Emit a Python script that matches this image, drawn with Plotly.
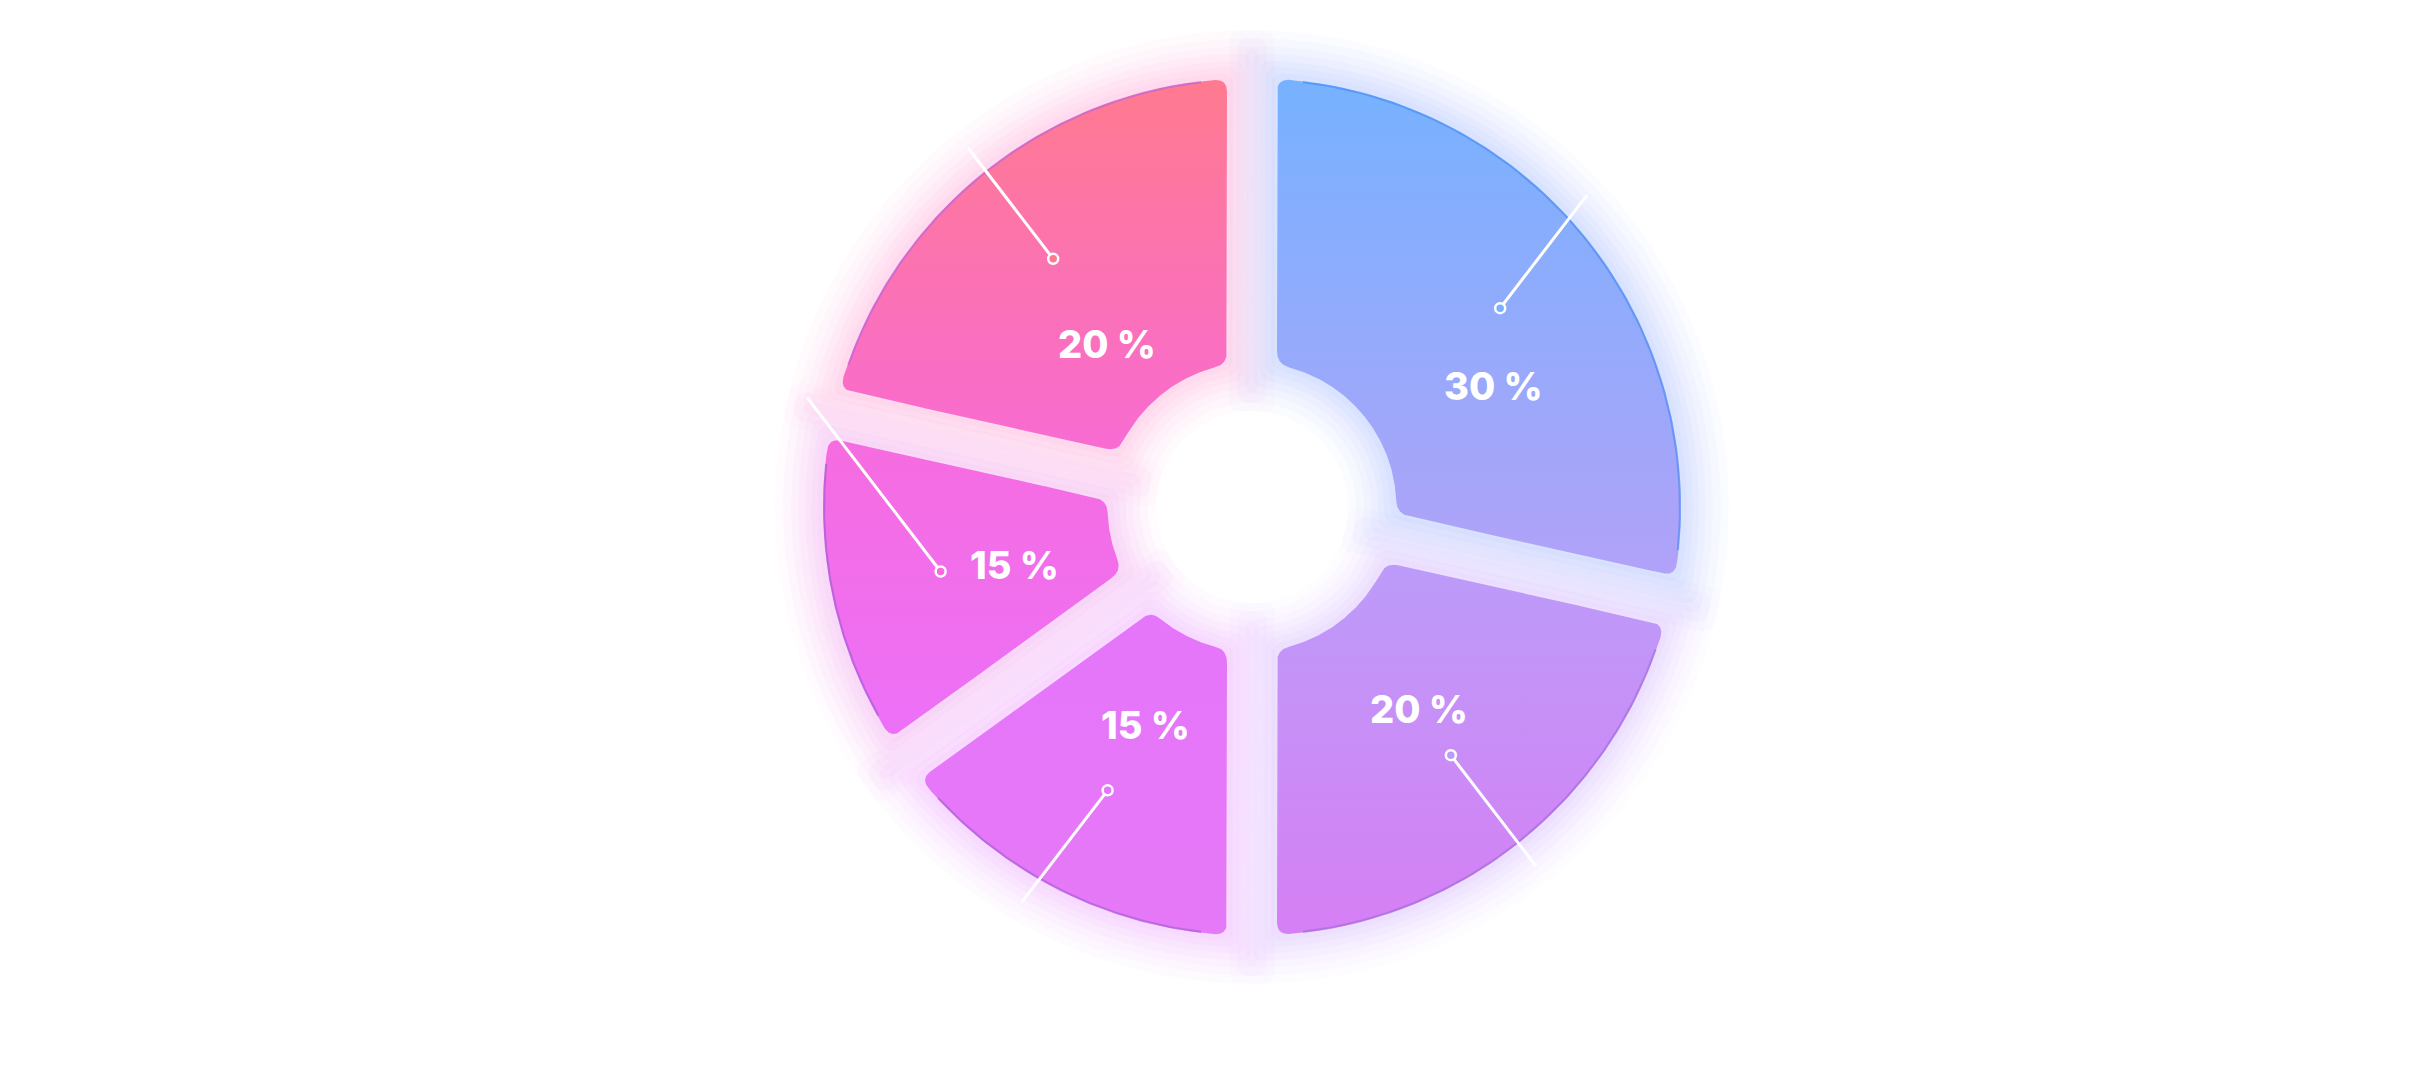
import numpy as np
import plotly.graph_objects as go

# ---------------- data ----------------
values = [28.5, 21.5, 15.0, 13.5, 21.5]          # slice sizes (clockwise from 12 o'clock)
label_texts = ["30 %", "20 %", "15 %", "15 %", "20 %"]
top_colors = ["#76b2ff", "#bc9bf9", "#e575fa", "#f66ce0", "#ff7a8f"]
bottom_colors = ["#b1a2f8", "#d67ff4", "#e579f7", "#ec70f7", "#f86bd2"]
glow_colors = ["#7f95ff", "#c490f7", "#e67af8", "#f070ee", "#fb74c0"]
edge_colors = ["#3d86f0", "#9a66d8", "#9a5ad6", "#9457d6", "#b35ee6"]

# ---------------- geometry / style ----------------
W, H = 2435, 1090
CX, CY = 1252, 507            # pixel position of the ring centre
R_OUT, R_IN, GAP = 429, 145, 50
STEP = 28                     # sampling step -> corner rounding size
TICK_R0, TICK_R1 = 318, 458
TICK_ANGLE = np.radians(52.5)
tick_up = [True, False, False, True, True]
label_r = [270, 262, 242, 244, 218]        # label distance from centre (px)
label_turn = [12, -1, -1, -2, -3]          # label angle offset from slice middle (deg)
GLOW = [(6, 0.05), (12, 0.05), (18, 0.045), (25, 0.045), (32, 0.04), (40, 0.035), (48, 0.03)]


def pt(theta_deg, rho):
    t = np.radians(theta_deg)
    return rho * np.sin(t), rho * np.cos(t)


def arc(r, s, e):
    L = abs(np.radians(e - s)) * r
    n = max(2, int(np.ceil(L / STEP)))
    return [pt(a, r) for a in np.linspace(s, e, n + 1)[:-1]]


def seg(p, q):
    L = np.hypot(q[0] - p[0], q[1] - p[1])
    n = max(2, int(np.ceil(L / STEP)))
    return [(p[0] + (q[0] - p[0]) * k / n, p[1] + (q[1] - p[1]) * k / n) for k in range(n)]


def slice_outline(a0, a1, grow=0.0):
    r_out, r_in, h = R_OUT + grow, R_IN - grow, GAP / 2 - grow
    do = np.degrees(np.arcsin(h / r_out))
    di = np.degrees(np.arcsin(h / r_in))
    o0, o1, i1, i0 = a0 + do, a1 - do, a1 - di, a0 + di
    pts = []
    pts += arc(r_out, o0, o1)
    pts += seg(pt(o1, r_out), pt(i1, r_in))
    pts += arc(r_in, i1, i0)
    pts += seg(pt(i0, r_in), pt(o0, r_out))
    P = np.array(pts)
    for _ in range(5):
        Q = np.roll(P, -1, axis=0)
        A = 0.75 * P + 0.25 * Q
        B = 0.25 * P + 0.75 * Q
        P = np.empty((2 * len(A), 2))
        P[0::2] = A
        P[1::2] = B
    return np.vstack([P, P[:1]])


def rgba(hexc, a):
    hexc = hexc.lstrip("#")
    r, g, b = int(hexc[0:2], 16), int(hexc[2:4], 16), int(hexc[4:6], 16)
    return f"rgba({r},{g},{b},{a})"


total = sum(values)
bounds = np.concatenate([[0], np.cumsum(values)]) / total * 360.0
n = len(values)
mids = [(bounds[i] + bounds[i + 1]) / 2 for i in range(n)]

fig = go.Figure()

# soft glow (stack of grown, translucent copies of each slice)
for grow, a in reversed(GLOW):
    for i in range(n):
        P = slice_outline(bounds[i], bounds[i + 1], grow)
        fig.add_trace(go.Scatter(x=P[:, 0], y=P[:, 1], mode="lines", fill="toself",
                                 fillcolor=rgba(glow_colors[i], a), line=dict(width=0),
                                 hoverinfo="skip", showlegend=False))

# slices with vertical gradient
for i in range(n):
    P = slice_outline(bounds[i], bounds[i + 1])
    fig.add_trace(go.Scatter(
        x=P[:, 0], y=P[:, 1], mode="lines", fill="toself",
        line=dict(width=0, color=bottom_colors[i]),
        fillgradient=dict(type="vertical",
                          colorscale=[[0, bottom_colors[i]], [1, top_colors[i]]]),
        name=label_texts[i], hoverinfo="name", showlegend=False))

# darker rim just inside the outer arc
for i in range(n):
    a0, a1 = bounds[i], bounds[i + 1]
    d = np.degrees(np.arcsin((GAP / 2 + 26) / R_OUT))
    ang = np.linspace(a0 + d, a1 - d, 80)
    xs = [pt(a, R_OUT - 1.0)[0] for a in ang]
    ys = [pt(a, R_OUT - 1.0)[1] for a in ang]
    fig.add_trace(go.Scatter(x=xs, y=ys, mode="lines",
                             line=dict(color=rgba(edge_colors[i], 0.55), width=2.2),
                             hoverinfo="skip", showlegend=False))

# leader ticks
for i, m in enumerate(mids):
    px, py = pt(m, TICK_R0)
    sx = 1 if px >= 0 else -1
    sy = 1 if tick_up[i] else -1
    dx, dy = sx * np.cos(TICK_ANGLE), sy * np.sin(TICK_ANGLE)
    b = px * dx + py * dy
    c = px * px + py * py - TICK_R1 ** 2
    t = -b + np.sqrt(b * b - c)
    ex, ey = px + t * dx, py + t * dy
    fig.add_trace(go.Scatter(x=[px, ex], y=[py, ey], mode="lines",
                             line=dict(color="white", width=3),
                             hoverinfo="skip", showlegend=False))
    fig.add_trace(go.Scatter(x=[px], y=[py], mode="markers",
                             marker=dict(symbol="circle", size=10, color=top_colors[i],
                                         line=dict(color="white", width=2.5)),
                             hoverinfo="skip", showlegend=False))

# labels
for i, m in enumerate(mids):
    lx, ly = pt(m + label_turn[i], label_r[i])
    fig.add_annotation(x=lx, y=ly, xref="x", yref="y", text=label_texts[i],
                       showarrow=False,
                       font=dict(family="Inter, sans-serif", size=38,
                                 color="white", weight=800))

fig.update_layout(
    width=W, height=H,
    margin=dict(l=0, r=0, t=0, b=0),
    paper_bgcolor="white", plot_bgcolor="white",
    showlegend=False,
    xaxis=dict(range=[-CX, W - CX], visible=False, fixedrange=True),
    yaxis=dict(range=[-(H - CY), CY], visible=False, fixedrange=True),
)

fig.write_html("out.html")
